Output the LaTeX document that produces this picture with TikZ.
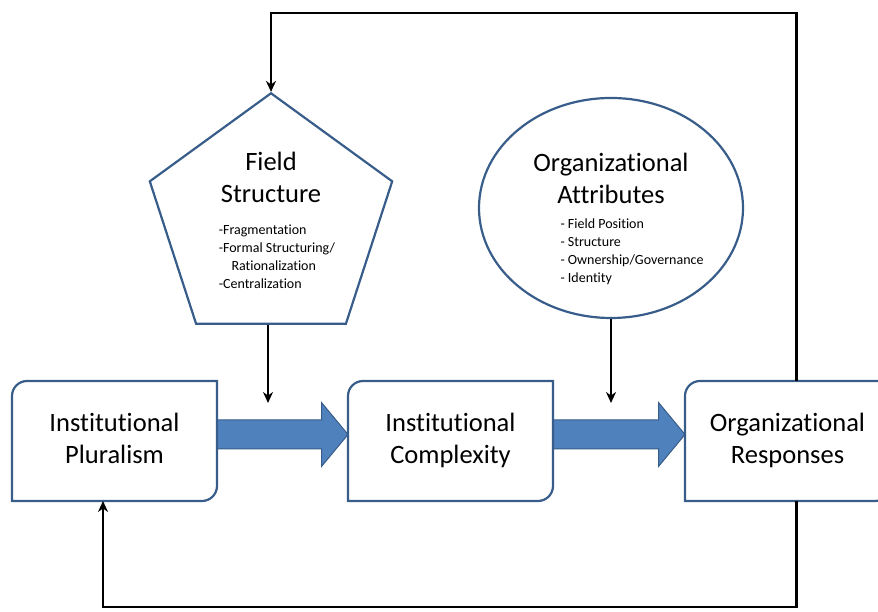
\documentclass[tikz,border=0pt]{standalone}
\usepackage{fontspec}
\setmainfont{Carlito}[Ligatures=NoCommon]
\usetikzlibrary{arrows.meta,shapes.geometric}
\definecolor{flowblue}{RGB}{79,129,189}
\definecolor{edgeblue}{RGB}{56,93,138}
\newcommand{\titlefont}{\fontsize{26.5}{32}\selectfont}
\newcommand{\listfont}{\fontsize{14}{18}\selectfont}

\begin{document}
\begin{tikzpicture}[x=1pt,y=1pt,
  stage/.style={minimum width=205pt,minimum height=120pt,inner sep=0pt,outer sep=0pt,font=\titlefont},
  stageline/.style={draw=edgeblue,line width=2.2pt},
  fieldshape/.style={regular polygon,regular polygon sides=5,minimum size=248pt,inner sep=0pt,
    draw=edgeblue,line width=2.2pt,font=\titlefont},
  attrshape/.style={ellipse,minimum width=264pt,minimum height=220pt,inner xsep=0pt,inner ysep=-4pt,
    draw=edgeblue,line width=2.2pt,font=\titlefont},
  flow/.style={fill=flowblue,draw=edgeblue,line width=1pt},
  feedback/.style={draw=black,line width=2.8pt,-{Stealth[length=11pt,width=10pt]}}]
  \useasboundingbox (0,0) rectangle (878,612);

  \node[stage] (plural)  at (114.5,171) {\begin{tabular}{@{}c@{}}Institutional\\Pluralism\end{tabular}};
  \node[stage] (complex) at (450.5,171) {\begin{tabular}{@{}c@{}}Institutional\\Complexity\end{tabular}};
  \node[stage] (respo)   at (787.5,171) {\begin{tabular}{@{}c@{}}Organizational\\Responses\end{tabular}};

  \node[fieldshape] (field) at (271,391.3) {\begin{tabular}{@{}c@{}}Field\\Structure\\
    \hspace*{12pt}\listfont\begin{tabular}[t]{@{}l@{}}-Fragmentation\\-Formal Structuring/\\
    \hspace*{12.7pt}Rationalization\\-Centralization\end{tabular}\end{tabular}};
  \node[attrshape] (attr) at (611,404) {\begin{tabular}{@{}c@{}}\rule{0pt}{43pt}Organizational\\Attributes\\[-7pt]
    \hspace*{42pt}\listfont\begin{tabular}[t]{@{}l@{}}- Field Position\\- Structure\\
    - Ownership/Governance\\- Identity\end{tabular}\end{tabular}};

  \coordinate (fieldin) at (268,209);
  \coordinate (attrin)  at (611,209);
  \coordinate (toprail) at (500,599);
  \coordinate (lowrail) at (500,5);

  % block arrows between the stages
  \foreach \a/\b in {plural/complex,complex/respo}
    \draw[flow] ([yshift=21pt]\a.east) -- ([xshift=-26.5pt,yshift=21pt]\b.west)
      -- ([xshift=-26.5pt,yshift=38.5pt]\b.west) -- ([yshift=6.5pt]\b.west)
      -- ([xshift=-26.5pt,yshift=-25.5pt]\b.west) -- ([xshift=-26.5pt,yshift=-8pt]\b.west)
      -- ([yshift=-8pt]\a.east) -- cycle;

  % stage outlines, two corners rounded
  \foreach \b in {plural,complex,respo}
    \draw[stageline] ([yshift=-15pt]\b.north west) arc[start angle=180,end angle=90,radius=15pt]
      -- (\b.north east) -- ([yshift=15pt]\b.south east) arc[start angle=0,end angle=-90,radius=15pt]
      -- (\b.south west) -- cycle;

  \draw[feedback] ([xshift=-3pt]field.side 3) -- (fieldin);
  \draw[feedback] (attr.south) -- (attrin);
  \draw[feedback] ([xshift=9pt]respo.north) |- (toprail) -| (field.corner 1);
  \draw[feedback] ([xshift=9pt]respo.south) |- (lowrail) -| ([xshift=-11.5pt]plural.south);
\end{tikzpicture}
\end{document}
